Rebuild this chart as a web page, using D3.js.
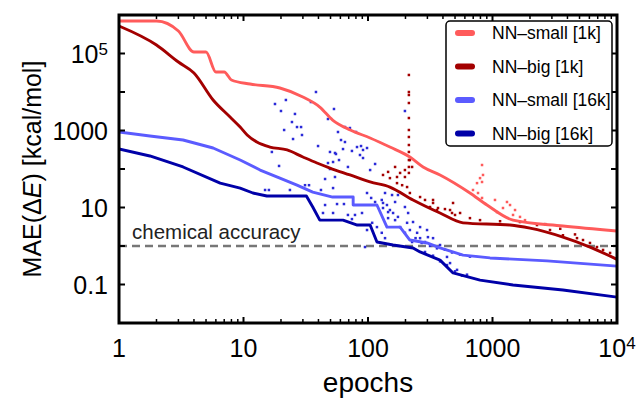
<!DOCTYPE html>
<html>
<head>
<meta charset="utf-8">
<script src="https://cdn.jsdelivr.net/npm/d3@7"></script>
<style>
  body { margin: 0; background: #fff; }
  svg { display: block; font-family: "Liberation Sans", Arial, sans-serif; }
</style>
</head>
<body>
<div id="chart"></div>
<script>
// training curves: [epoch, MAE kcal/mol]
const seriesNames = ["NN\u2013small [1k]", "NN\u2013big [1k]", "NN\u2013small [16k]", "NN\u2013big [16k]"];
const seriesColors = ["#ff5b5b", "#a30000", "#5b5bff", "#0000a8"];

const small1k = [[1,7e5],[2,7e5],[3,3.84e5],[4,1.09e5],[5,1.09e5],[6,3.3e4],[7,3.3e4],[8,2.05e4],
  [11.3,1.61e4],[19.6,1.27e4],[30,7400],[41,4070],[52,1870],[72,1030],[104,640],[150,372],
  [217,205],[277,113],[379,70],[659,23.8],[903,11.6],[1462,4.7],[3680,3.3],[10000,2.45]];

const big1k = [[1,5.18e5],[2,1.66e5],[3,6.0e4],[4,3.12e4],[5.7,6200],[7.8,2240],[9.4,1230],
  [10.7,764],[12.8,502],[16.3,372],[22.4,312],[30,205],[38.9,143],[49.5,106],[71.7,70],
  [104,46],[150,34],[230,15.7],[379,7.2],[580,4.0],[1383,3.5],[2000,2.9],[3680,1.7],
  [6070,0.94],[10000,0.45]];

const small16k = [[1,914],[1.77,720],[3.27,566],[5.7,351],[9.4,171],[13.6,94],[19.6,58],
  [26.9,38],[36,25],[52,18.7],[76,18.7],[76,11.6],[118,11.6],[142,3.1],[181,3.1],[217,1.43],
  [298,1.2],[379,0.89],[580,0.58],[955,0.49],[2740,0.41],[10000,0.30]];

const big16k = [[1,330],[1.77,218],[3.27,113],[6.5,43],[9.4,32],[11.9,23.8],[15.4,19.9],
  [32,19.9],[36,10.3],[41,4.7],[63,4.7],[82,3.5],[104,3.5],[118,1.27],[159,1.06],[230,0.89],
  [262,0.70],[379,0.43],[482,0.20],[794,0.13],[1462,0.097],[3680,0.072],[10000,0.047]];

// noisy per-epoch errors (scattered dots)
const dots16k = [[17.9,4880],[21.9,6200],[20.0,3210],[38.2,10000],[34.8,5500],[25.9,2690],
  [24.5,1660],[26.9,1230],[29.0,1230],[21.2,1030],[29.5,764],[25.0,601],[47.7,1990],[57.4,914],
  [39.7,395],[16.9,277],[49.5,277],[55.3,245],[19.3,120],[47.7,143],[52.4,152],[49.5,100],
  [45.2,55],[54.3,62],[14.9,28.5],[16.0,28.5],[23.6,28.5],[33.6,38],[41.9,28.5],[52.4,32],
  [53.3,3620],[65.3,1230],[71.6,1160],[80.1,914],[60.7,566],[65.3,502],[63.0,330],[74.3,294],
  [81.6,372],[87.9,395],[91.2,312],[98.2,351],[86.2,231],[91.2,193],[54.3,261],[58.5,171],
  [114,135],[104,94],[69.0,113],[198,3210],[31.2,38],[45.2,11.6],[56.4,12.3],[64.1,12.3],
  [52.4,7.2],[69.0,6.4],[78.6,6.4],[89.5,7.2],[74.3,5.0],[43.5,7.2],[98.2,23.8],[106,17.7],
  [114,13.9],[129,15.7],[142,11.6],[132,9.7],[150,8.6],[159,7.2],[145,5.3],[165,4.7],[174,5.7],
  [181,3.1],[206,4.0],[217,2.6],[198,2.2],[118,3.1],[129,2.2],[137,1.6],[98.2,2.6],[108,4.0],
  [248,2.2],[262,1.6],[287,1.27],[303,1.7],[226,1.27],[94.6,0.94],[132,13.1],[145,7.6],
  [165,13.9],[156,21.1],[137,23.8],[174,21.1],[198,10.3],[210,7.2],[230,4.2],[262,3.1],
  [298,2.6],[333,1.6],[379,1.06],[431,0.52],[456,0.36],[519,0.24],[624,0.18],
  [241,1.6],[270,1.2],[315,1.0],[358,0.87],[415,0.8],[473,0.68],[549,0.6],[659,0.53],
  [287,0.70],[333,0.56],[379,0.4],[431,0.32],[500,0.22],[570,0.17]];

const dotsBig1k = [[213,27700],[213,10000],[213,8360],[213,5180],[213,2110],[213,1030],
  [213,678],[213,420],[213,277],[213,171],[213,113],[213,79],[198,94],[198,62],[165,113],
  [171,62],[181,79],[145,84],[150,58],[132,70],[217,171],[226,113],[171,43],[188,38],[206,34],
  [217,23.8],[262,18.7],[287,15.7],[315,10.3],[333,13.1],[358,8.6],[333,15.7],[365,9.7],
  [482,13.1],[456,8.6],[473,7.2],[500,6.4],[2277,3.5],[2897,2.6],[3680,1.9],[4773,1.6],
  [5333,1.43],[6067,1.2],[6905,0.94],[7727,0.79],
  [415,9.1],[549,7.2],[659,5.3],[794,4.7],[1150,4.4],[1663,4.2],[2650,3.7],[3500,2.8],
  [4600,2.0],[8800,0.66]];

const dotsSmall1k = [[824,127],[839,70],[794,58],[751,43],[824,46],[697,28.5],[765,23.8],
  [824,17.7],[1047,15.7],[1307,13.9],[1383,11.6],[1214,9.7],[1517,8.6],[1462,6.4],[1663,5.7],
  [1824,4.7],[1087,7.6]];

const xTicks = [1, 10, 100, 1000, 10000];
const xTickLabels = ["1", "10", "100", "1000", "10^4"];
const yTicks = [0.1, 10, 1000, 1e5];
const yTickLabels = ["0.1", "10", "1000", "10^5"];
const chemicalAccuracy = 1;

const width = 638, height = 404;
const plot = {left: 119, right: 617, top: 15, bottom: 323};

const svg = d3.select("#chart").append("svg")
  .attr("width", width).attr("height", height);

const x = d3.scaleLog().domain([1, 1e4]).range([plot.left, plot.right]);
const y = d3.scaleLog().domain([0.01, 1e6]).range([plot.bottom, plot.top]);

svg.append("clipPath").attr("id", "clip")
  .append("rect")
  .attr("x", plot.left).attr("y", plot.top)
  .attr("width", plot.right - plot.left).attr("height", plot.bottom - plot.top);

const inner = svg.append("g").attr("clip-path", "url(#clip)");

// chemical accuracy line
inner.append("line")
  .attr("x1", plot.left).attr("x2", plot.right)
  .attr("y1", y(chemicalAccuracy)).attr("y2", y(chemicalAccuracy))
  .attr("stroke", "#777").attr("stroke-width", 2.5)
  .attr("stroke-dasharray", "8,5");

svg.append("text")
  .attr("x", 132).attr("y", y(chemicalAccuracy) - 7)
  .style("font-size", "20.5px").attr("fill", "#222")
  .text("chemical accuracy");

// scattered dots
const dotSets = [[dotsSmall1k, seriesColors[0]], [dotsBig1k, seriesColors[1]], [dots16k, "#2a2ad8"]];
dotSets.forEach(([pts, col]) => {
  inner.append("g").selectAll("rect")
    .data(pts)
    .join("rect")
    .attr("x", d => x(d[0]) - 1.25)
    .attr("y", d => y(d[1]) - 1.25)
    .attr("width", 2.5).attr("height", 2.5)
    .attr("fill", col);
});

// curves: the 1k runs are smooth, the 16k runs keep their stair steps
const smoothLine = d3.line().x(d => x(d[0])).y(d => y(d[1])).curve(d3.curveMonotoneX);
const stepLine = d3.line().x(d => x(d[0])).y(d => y(d[1]));
[small1k, big1k, small16k, big16k].forEach((s, i) => {
  inner.append("path")
    .attr("d", i < 2 ? smoothLine(s) : stepLine(s))
    .attr("fill", "none")
    .attr("stroke", seriesColors[i])
    .attr("stroke-width", 2.9)
    .attr("stroke-linejoin", "round");
});

// ticks (inward, on all four sides)
const minorX = [];
for (let e = 0; e < 4; e++) for (let k = 2; k <= 9; k++) minorX.push(k * Math.pow(10, e));
const yDecades = d3.range(-1, 6).map(e => Math.pow(10, e));

const ticks = svg.append("g").attr("stroke", "#000");
xTicks.forEach(v => {
  ticks.append("line").attr("x1", x(v)).attr("x2", x(v)).attr("y1", plot.bottom).attr("y2", plot.bottom - 6).attr("stroke-width", 2);
  ticks.append("line").attr("x1", x(v)).attr("x2", x(v)).attr("y1", plot.top).attr("y2", plot.top + 6).attr("stroke-width", 2);
});
minorX.forEach(v => {
  ticks.append("line").attr("x1", x(v)).attr("x2", x(v)).attr("y1", plot.bottom).attr("y2", plot.bottom - 4).attr("stroke-width", 1.5);
  ticks.append("line").attr("x1", x(v)).attr("x2", x(v)).attr("y1", plot.top).attr("y2", plot.top + 4).attr("stroke-width", 1.5);
});
yDecades.forEach(v => {
  ticks.append("line").attr("x1", plot.left).attr("x2", plot.left + 6).attr("y1", y(v)).attr("y2", y(v)).attr("stroke-width", 2);
  ticks.append("line").attr("x1", plot.right).attr("x2", plot.right - 6).attr("y1", y(v)).attr("y2", y(v)).attr("stroke-width", 2);
});

// frame
svg.append("rect")
  .attr("x", plot.left).attr("y", plot.top)
  .attr("width", plot.right - plot.left).attr("height", plot.bottom - plot.top)
  .attr("fill", "none").attr("stroke", "#000").attr("stroke-width", 3);

function powerLabel(sel, label) {
  const parts = label.split("^");
  sel.append("tspan").text(parts[0]);
  if (parts.length > 1) {
    sel.append("tspan").attr("dy", "-0.45em").style("font-size", "17px").text(parts[1]);
  }
}

// tick labels
svg.append("g").selectAll("text")
  .data(xTicks)
  .join("text")
  .attr("x", d => x(d))
  .attr("y", 357)
  .attr("text-anchor", "middle")
  .style("font-size", "25px")
  .each(function(d, i) { powerLabel(d3.select(this), xTickLabels[i]); });

svg.append("g").selectAll("text")
  .data(yTicks)
  .join("text")
  .attr("x", 108)
  .attr("y", d => y(d) + 9)
  .attr("text-anchor", "end")
  .style("font-size", "25px")
  .each(function(d, i) { powerLabel(d3.select(this), yTickLabels[i]); });

// axis titles
svg.append("text")
  .attr("x", (plot.left + plot.right) / 2).attr("y", 392)
  .attr("text-anchor", "middle")
  .style("font-size", "28px")
  .text("epochs");

const yTitle = svg.append("text")
  .attr("transform", `translate(41,${(plot.top + plot.bottom) / 2}) rotate(-90)`)
  .attr("text-anchor", "middle")
  .style("font-size", "25px");
yTitle.append("tspan").text("MAE(\u0394");
yTitle.append("tspan").style("font-style", "italic").text("E");
yTitle.append("tspan").text(") [kcal/mol]");

// legend
const legend = svg.append("g").attr("transform", "translate(446,21)");
legend.append("rect")
  .attr("width", 166).attr("height", 125).attr("rx", 4)
  .attr("fill", "#fff").attr("stroke", "#000").attr("stroke-width", 1.5);
const item = legend.selectAll("g.item")
  .data(seriesNames)
  .join("g")
  .attr("class", "item")
  .attr("transform", (d, i) => `translate(0,${12 + i * 33.5})`);
item.append("line")
  .attr("x1", 12).attr("x2", 26)
  .attr("stroke", (d, i) => seriesColors[i])
  .attr("stroke-width", 6).attr("stroke-linecap", "round");
item.append("text")
  .attr("x", 46).attr("y", 6)
  .style("font-size", "17.5px")
  .text(d => d);
</script>
</body>
</html>
